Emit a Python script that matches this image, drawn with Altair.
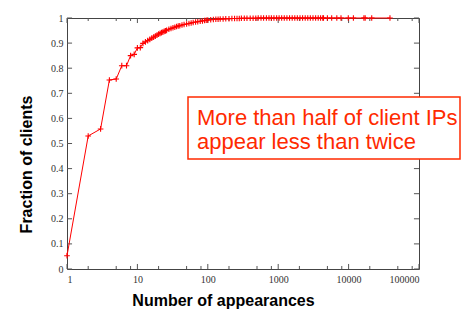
import altair as alt
import pandas as pd

# CDF data (x = number of appearances, y = fraction of clients)
appearances = [1, 2, 3, 4, 5, 6, 7, 8, 9, 10, 11, 12, 13, 14, 15, 16, 17, 18, 19, 20,
               21, 22, 23, 24, 25, 26, 28, 30, 32, 34, 36, 38, 40, 43, 46, 50, 54, 58,
               62, 67, 72, 78, 84, 90, 95, 100, 110, 120, 130, 140, 150, 165, 180, 200,
               220, 240, 260, 280, 300, 330, 360, 400, 440, 480, 520, 570, 620, 680,
               740, 800, 870, 950, 1030, 1120, 1220, 1330, 1450, 1580, 1720, 1870, 2040,
               2220, 2420, 2630, 2860, 3120, 3400, 3700, 4000, 4300, 4400, 5000, 5750,
               6800, 7800, 9900, 11700, 16500, 17200, 21300, 38700]
fraction = [0.053, 0.53, 0.558, 0.753, 0.757, 0.81, 0.81, 0.85, 0.855, 0.881, 0.882,
            0.899, 0.905, 0.91, 0.915, 0.92, 0.924, 0.928, 0.932, 0.936, 0.939, 0.942,
            0.944, 0.947, 0.949, 0.951, 0.955, 0.958, 0.961, 0.963, 0.966, 0.968,
            0.969, 0.972, 0.974, 0.976, 0.978, 0.980, 0.982, 0.984, 0.985, 0.987,
            0.988, 0.990, 0.991, 0.992, 0.993, 0.994, 0.995, 0.995, 0.996, 0.996,
            0.997, 0.997, 0.998, 0.998, 0.998, 0.998, 0.999, 0.999, 0.999, 0.999,
            0.999, 0.999, 1.0, 1.0, 1.0, 1.0, 1.0, 1.0, 1.0, 1.0, 1.0, 1.0, 1.0, 1.0,
            1.0, 1.0, 1.0, 1.0, 1.0, 1.0, 1.0, 1.0, 1.0, 1.0, 1.0, 1.0, 1.0, 1.0, 1.0,
            1.0, 1.0, 1.0, 1.0, 1.0, 1.0, 1.0, 1.0, 1.0, 1.0]

x_major = [1, 10, 100, 1000, 10000, 100000]
x_minor = [2, 5, 8, 20, 50, 80, 200, 500, 800, 2000, 5000, 8000, 20000, 50000, 80000]
y_ticks = [0, 0.1, 0.2, 0.3, 0.4, 0.5, 0.6, 0.7, 0.8, 0.9, 1]

x_title = "Number of appearances"
y_title = "Fraction of clients"
note = ["More than half of client IPs", "appear less than twice"]

RED = "#ff0000"
NOTE_RED = "#ff2a00"
TICK = "#555555"

df = pd.DataFrame({"x": appearances, "y": fraction})

xscale = alt.Scale(type="log", domain=[1, 100000], nice=False)
yscale = alt.Scale(domain=[0, 1], nice=False, zero=False)

xaxis = alt.Axis(values=x_major, format="d", ticks=False, domain=False, grid=False,
                 labelPadding=5, labelOverlap=False, title=x_title, titleX=156,
                 titleY=36, titleAlign="center", titleBaseline="alphabetic")
yaxis = alt.Axis(values=y_ticks, format="~g", ticks=False, domain=False, grid=False,
                 labelPadding=4, labelOverlap=False, title=y_title, titleX=-36,
                 titleY=146, titleAlign="center", titleBaseline="alphabetic",
                 titleAngle=270)


def X(field):
    return alt.X(field, type="quantitative", scale=xscale, axis=xaxis)


def Y(field):
    return alt.Y(field, type="quantitative", scale=yscale, axis=yaxis)


cross = "M-1,0H1M0,-1V1"

line = alt.Chart(df).mark_line(color=RED, strokeWidth=1, clip=False).encode(
    x=X("x"), y=Y("y"))
points = alt.Chart(df).mark_point(shape=cross, size=32, color=RED, strokeWidth=1.1,
                                  filled=False, opacity=1, clip=False).encode(
    x=X("x"), y=Y("y"))

# inward tick marks (gnuplot style), drawn through the scales
xt = pd.DataFrame(
    [{"x": v, "y": 0, "y2": 0.02} for v in x_major]
    + [{"x": v, "y": 0, "y2": 0.012} for v in x_minor]
    + [{"x": v, "y": 1, "y2": 0.98} for v in x_major]
    + [{"x": v, "y": 1, "y2": 0.988} for v in x_minor]
)
yt = pd.DataFrame(
    [{"y": v, "x": 1, "x2": 1.18} for v in y_ticks]
    + [{"y": v, "x": 100000 / 1.18, "x2": 100000} for v in y_ticks]
)
xticks = alt.Chart(xt).mark_rule(color=TICK, strokeWidth=1).encode(
    x=X("x"), y=Y("y"), y2="y2:Q")
yticks = alt.Chart(yt).mark_rule(color=TICK, strokeWidth=1).encode(
    y=Y("y"), x=X("x"), x2="x2:Q")

one = alt.Data(values=[{"a": 1}])
box = alt.Chart(one).mark_rect(fill="white", stroke=NOTE_RED, strokeWidth=1.5).encode(
    x=alt.value(121), x2=alt.value(393), y=alt.value(79), y2=alt.value(141))
text = alt.Chart(one).mark_text(
    align="left", baseline="alphabetic", font="Liberation Sans", fontSize=22,
    color=NOTE_RED, lineHeight=23.5).encode(
    x=alt.value(130), y=alt.value(107), text=alt.value(note))

chart = alt.layer(xticks, yticks, line, points, box, text).properties(
    width=352, height=251,
    padding={"left": 59, "top": 10, "right": 42, "bottom": 40},
    autosize=alt.AutoSizeParams(type="none"),
    background="white",
).configure_view(stroke="#444444", strokeWidth=1).configure_axis(
    labelFont="Liberation Serif", labelFontSize=10, labelColor="#333333",
    titleFont="Liberation Sans", titleFontSize=16, titleFontWeight="bold",
    titleColor="black",
)

chart.save("out.html", embed_options={"renderer": "svg", "actions": False})
